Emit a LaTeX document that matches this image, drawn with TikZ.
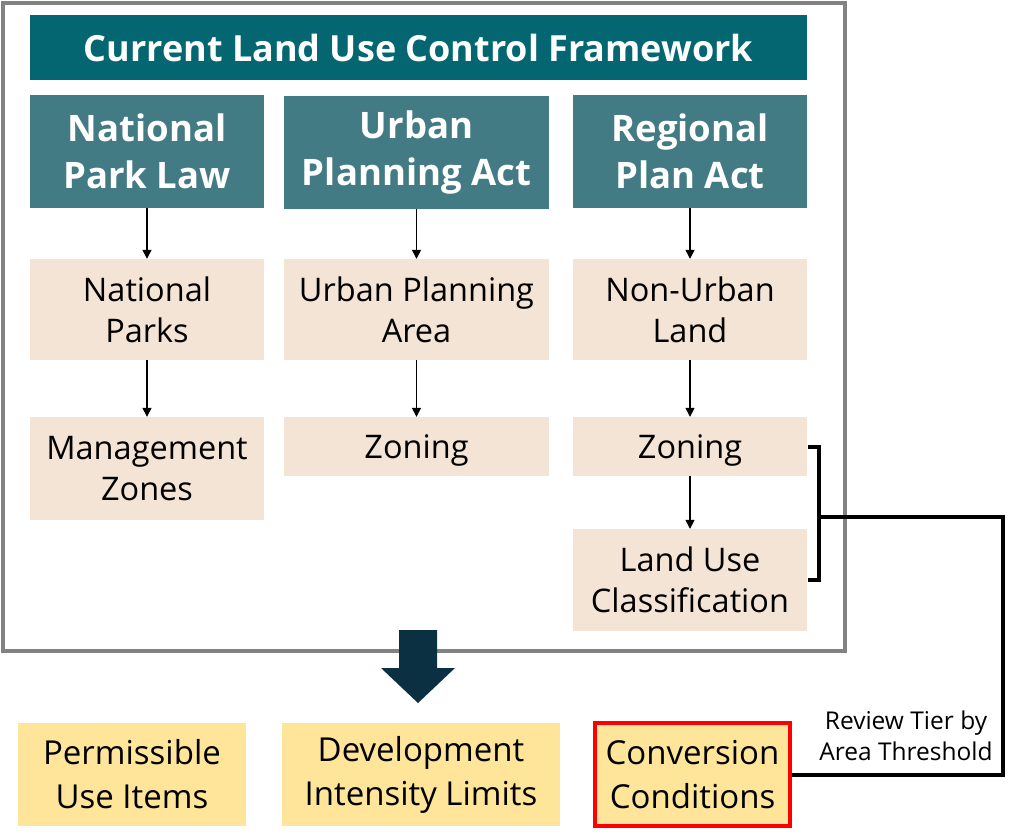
\documentclass[tikz,border=0pt]{standalone}
\usepackage{fontspec}
\setmainfont{Open Sans}
\usetikzlibrary{arrows.meta}
\definecolor{framegray}{RGB}{130,130,130}
\definecolor{titleteal}{RGB}{4,102,112}
\definecolor{lawteal}{RGB}{66,123,131}
\definecolor{areabeige}{RGB}{244,228,214}
\definecolor{itemyellow}{RGB}{255,229,153}
\definecolor{arrownavy}{RGB}{10,48,66}
\begin{document}
\begin{tikzpicture}[x=1pt,y=-1pt,
  titlebox/.style={fill=titleteal,text=white,inner sep=0pt,minimum width=777pt,minimum height=65pt,font=\fontsize{36}{40}\selectfont\bfseries},
  lawbox/.style={fill=lawteal,text=white,inner sep=0pt,align=center,minimum height=113pt,font=\fontsize{36.5}{47}\selectfont\bfseries},
  areabox/.style={fill=areabeige,inner sep=0pt,align=center,font=\fontsize{32.5}{41}\selectfont},
  itembox/.style={fill=itemyellow,inner sep=0pt,align=center,minimum height=103pt,font=\fontsize{33}{44}\selectfont},
  link/.style={-{Triangle[length=9pt,width=9pt]},line width=1.4pt},
  brace/.style={line width=4pt}]
\useasboundingbox (0,0) rectangle (1030,839);
\draw[framegray,line width=4pt] (3,3) rectangle (845,651);
\node[titlebox] (frame) at (418.5,47.5) {Current Land Use Control Framework};
\node[lawbox,minimum width=234pt] (npl) at (147,151.5) {National\\Park Law};
\node[lawbox,minimum width=265pt] (upa) at (416.5,152.5) {Urban\\Planning Act};
\node[lawbox,minimum width=234pt] (rpa) at (690,151.5) {Regional\\Plan Act};
\node[areabox,minimum width=234pt,minimum height=101pt] (parks) at (147,309.5) {National\\Parks};
\node[areabox,minimum width=265pt,minimum height=101pt] (uparea) at (416.5,309.5) {Urban Planning\\Area};
\node[areabox,minimum width=234pt,minimum height=101pt] (nonurban) at (690,309.5) {Non-Urban\\Land};
\node[areabox,minimum width=234pt,minimum height=103pt] (mzones) at (147,468.5) {Management\\Zones};
\node[areabox,minimum width=265pt,minimum height=59pt,text depth=0pt] (uzoning) at (416.5,446.5) {Zoning};
\node[areabox,minimum width=234pt,minimum height=59pt,text depth=0pt] (rzoning) at (690,446.5) {Zoning};
\node[areabox,minimum width=234pt,minimum height=102pt] (luclass) at (690,580) {Land Use\\Classification};
\draw[link] (npl) -- (parks);
\draw[link] (parks) -- (mzones);
\draw[link] (upa) -- (uparea);
\draw[link] (uparea) -- (uzoning);
\draw[link] (rpa) -- (nonurban);
\draw[link] (nonurban) -- (rzoning);
\draw[link] (rzoning) -- (luclass);
\fill[arrownavy] (399,630) -- (437,630) -- (437,668) -- (455,668) -- (418,703) -- (381,668) -- (399,668) -- cycle;
\node[itembox,minimum width=228pt] (uses) at (132,774.5) {Permissible\\Use Items};
\node[itembox,minimum width=278pt] (limits) at (421,774.5) {Development\\Intensity Limits};
\node[itembox,minimum width=195pt,draw=red,line width=4pt] (conv) at (692.5,774.5) {Conversion\\Conditions};
\draw[brace] ([xshift=1pt]rzoning.east) -- ++(11,0) |- ([xshift=1pt]luclass.east);
\coordinate (mid) at (818,517);
\coordinate (turn) at (1003,774.5);
\draw[brace] (mid) -| (turn) -- (conv.east);
\node[align=center,font=\fontsize{24.5}{31}\selectfont] (tier) at (906,736) {Review Tier by\\Area Threshold};
\end{tikzpicture}
\end{document}
